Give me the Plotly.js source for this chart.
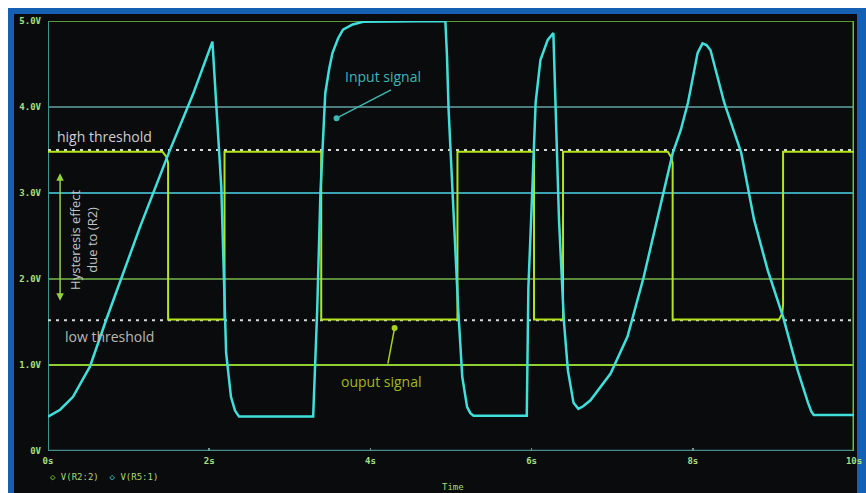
<!DOCTYPE html>
<html>
<head>
<meta charset="utf-8">
<script src="https://cdn.plot.ly/plotly-3.0.1.min.js"></script>
<style>
  html, body { margin: 0; padding: 0; background: #ffffff; width: 866px; height: 493px; overflow: hidden; }
  #frame { position: absolute; left: 8px; top: 8px; width: 858px; height: 485px; background: #1660b4; }
  #inner { position: absolute; left: 14px; top: 14px; width: 843px; height: 479px; background: #0a0b0d; }
  #chart { position: absolute; left: 0; top: 0; width: 866px; height: 493px; }
</style>
</head>
<body>
<div id="frame"></div>
<div id="inner"></div>
<div id="chart"></div>
<script>
// ---- data (time in s, voltage in V) ----
const inputT = [0, 0.15, 0.31, 0.52, 0.72, 1.14, 1.5, 1.8, 2.04, 2.15, 2.21, 2.27, 2.32, 2.37,
  3.29, 3.34, 3.38, 3.44, 3.49, 3.53, 3.6, 3.66, 3.78, 3.91, 4.93, 4.95, 4.97, 5.03, 5.09, 5.14, 5.2, 5.24, 5.28,
  5.94, 5.96, 6.01, 6.05, 6.11, 6.2, 6.27, 6.3, 6.34, 6.4, 6.45, 6.52, 6.58, 6.64, 6.73, 6.98,
  7.19, 7.39, 7.6, 7.75, 7.85, 7.94, 8.06, 8.12, 8.17, 8.22, 8.39, 8.6, 8.76, 8.93, 9.12, 9.3,
  9.43, 9.47, 9.5, 10];
const inputV = [0.40, 0.48, 0.63, 0.98, 1.52, 2.6, 3.47, 4.15, 4.76, 3.07, 1.14, 0.63, 0.47, 0.40,
  0.40, 1.64, 3.0, 4.16, 4.45, 4.63, 4.8, 4.9, 4.96, 4.99, 5.0, 4.6, 3.97, 2.8, 1.64, 0.86, 0.51, 0.44, 0.41,
  0.41, 1.9, 3.07, 4.05, 4.55, 4.78, 4.86, 3.85, 2.69, 1.52, 0.94, 0.56, 0.49, 0.52, 0.59, 0.9,
  1.33, 2.02, 2.84, 3.46, 3.73, 4.05, 4.63, 4.74, 4.72, 4.66, 4.05, 3.47, 2.69, 2.1, 1.56, 0.94,
  0.56, 0.46, 0.42, 0.42];

const outputT = [0, 1.42, 1.47, 1.49, 1.49, 2.19, 2.19, 3.39, 3.39, 5.08, 5.08, 6.03, 6.03,
  6.39, 6.39, 7.69, 7.73, 7.75, 7.75, 9.07, 9.11, 9.12, 9.12, 10];
const outputV = [3.48, 3.48, 3.42, 3.35, 1.53, 1.53, 3.48, 3.48, 1.53, 1.53, 3.48, 3.48, 1.53,
  1.53, 3.48, 3.48, 3.42, 3.35, 1.53, 1.53, 1.6, 1.7, 3.48, 3.48];

const thresholdT = [0, 10];
const highThresholdV = [3.5, 3.5];
const lowThresholdV = [1.52, 1.52];

const yTickVals = [0, 1, 2, 3, 4, 5];
const yTickText = ["0V", "1.0V", "2.0V", "3.0V", "4.0V", "5.0V"];
const xTickVals = [0, 2, 4, 6, 8, 10];
const xTickText = ["0s", "2s", "4s", "6s", "8s", "10s"];

// ---- traces ----
const dotStyle = {color: "#d8d8d8", width: 2, dash: "3px,5px"};
const traces = [
  {x: thresholdT, y: highThresholdV, mode: "lines", line: dotStyle, hoverinfo: "skip"},
  {x: thresholdT, y: lowThresholdV, mode: "lines", line: dotStyle, hoverinfo: "skip"},
  {x: outputT, y: outputV, mode: "lines", line: {color: "#b4e41c", width: 2}, name: "V(R2:2)"},
  {x: inputT, y: inputV, mode: "lines", line: {color: "#3fe0dc", width: 2.5}, name: "V(R5:1)"}
];

function hline(y, color, w) {
  return {type: "line", xref: "paper", x0: 0, x1: 1, yref: "y", y0: y, y1: y, layer: "below",
          line: {color: color, width: w}};
}
function vline(x, color, w) {
  return {type: "line", yref: "paper", y0: 0, y1: 1, xref: "x", x0: x, x1: x, layer: "below",
          line: {color: color, width: w}};
}

const shapes = [
  hline(5, "#5b9a3c", 2),
  hline(4, "#4d7c7e", 2),
  hline(3, "#3aa2b2", 2),
  hline(2, "#5a8a3c", 2),
  hline(1, "#8fd030", 2),
  hline(0, "#4a8a8a", 2.5),
  vline(0, "#3a9494", 2),
  vline(10, "#6cc02c", 3)
];

const txtFont = "Open Sans, Liberation Sans, sans-serif";
const annotations = [
  {x: 0.09, y: 3.66, xref: "x", yref: "y", text: "high threshold", showarrow: false,
   xanchor: "left", font: {family: txtFont, size: 14, color: "#cfcfcf"}},
  {x: 0.19, y: 1.33, xref: "x", yref: "y", text: "low threshold", showarrow: false,
   xanchor: "left", font: {family: txtFont, size: 14, color: "#b8b8b8"}},
  {x: 3.66, y: 4.35, xref: "x", yref: "y", text: "Input signal", showarrow: false,
   xanchor: "left", font: {family: txtFont, size: 14, color: "#3cb8b8"}},
  {x: 3.61, y: 0.81, xref: "x", yref: "y", text: "ouput signal", showarrow: false,
   xanchor: "left", font: {family: txtFont, size: 14, color: "#a2b81e"}},
  // input arrow
  {x: 3.58, y: 3.87, xref: "x", yref: "y", text: "", showarrow: true, arrowhead: 6, arrowsize: 1,
   arrowwidth: 1.5, arrowcolor: "#3cb8b0", ax: 56, ay: -29},
  // output arrow
  {x: 4.30, y: 1.43, xref: "x", yref: "y", text: "", showarrow: true, arrowhead: 6, arrowsize: 1,
   arrowwidth: 1.5, arrowcolor: "#a8d020", ax: -7, ay: 37},
  // hysteresis double arrow
  {x: 0.15, y: 3.23, xref: "x", yref: "y", text: "", showarrow: true, arrowhead: 2, startarrowhead: 2,
   arrowside: "end+start", arrowsize: 1, arrowwidth: 1.5, arrowcolor: "#94d040", ax: 0, ay: 129},
  {x: 0.44, y: 2.46, xref: "x", yref: "y", text: "Hysteresis effect<br>due to (R2)", showarrow: false,
   textangle: -90, font: {family: txtFont, size: 13, color: "#c4c4c4"}},
  // legend-like caption
  {x: 0.0, y: -0.06, xref: "paper", yref: "paper", xanchor: "left", yanchor: "middle", showarrow: false,
   text: "<span style='color:#7cd040'>\u25c7</span> V(R2:2)  <span style='color:#3fc8c8'>\u25c7</span> V(R5:1)",
   font: {family: "DejaVu Sans Mono, monospace", size: 9, color: "#a8d878"}},
  {x: 0.502, y: -0.084, xref: "paper", yref: "paper", xanchor: "center", yanchor: "middle", showarrow: false,
   text: "Time", font: {family: "DejaVu Sans Mono, monospace", size: 9, color: "#a8d878"}}
];

const layout = {
  width: 866, height: 493,
  margin: {l: 48, r: 12, t: 21, b: 42},
  paper_bgcolor: "rgba(0,0,0,0)",
  plot_bgcolor: "rgba(0,0,0,0)",
  showlegend: false,
  xaxis: {range: [0, 10], showgrid: false, zeroline: false, showline: false,
          tickvals: xTickVals, ticktext: xTickText, ticks: "inside", ticklen: 3, tickwidth: 1.5,
          tickcolor: "#6a9a90", ticklabelstandoff: 3,
          tickfont: {family: "DejaVu Sans Mono, monospace", size: 9, color: "#a8e080", weight: "bold"}},
  yaxis: {range: [0, 5], showgrid: false, zeroline: false, showline: false,
          tickvals: yTickVals, ticktext: yTickText, ticks: "", ticklabelstandoff: 6,
          tickfont: {family: "DejaVu Sans Mono, monospace", size: 9, color: "#a8e080", weight: "bold"}},
  shapes: shapes,
  annotations: annotations
};

Plotly.newPlot("chart", traces, layout, {displayModeBar: false, staticPlot: true});
</script>
</body>
</html>
